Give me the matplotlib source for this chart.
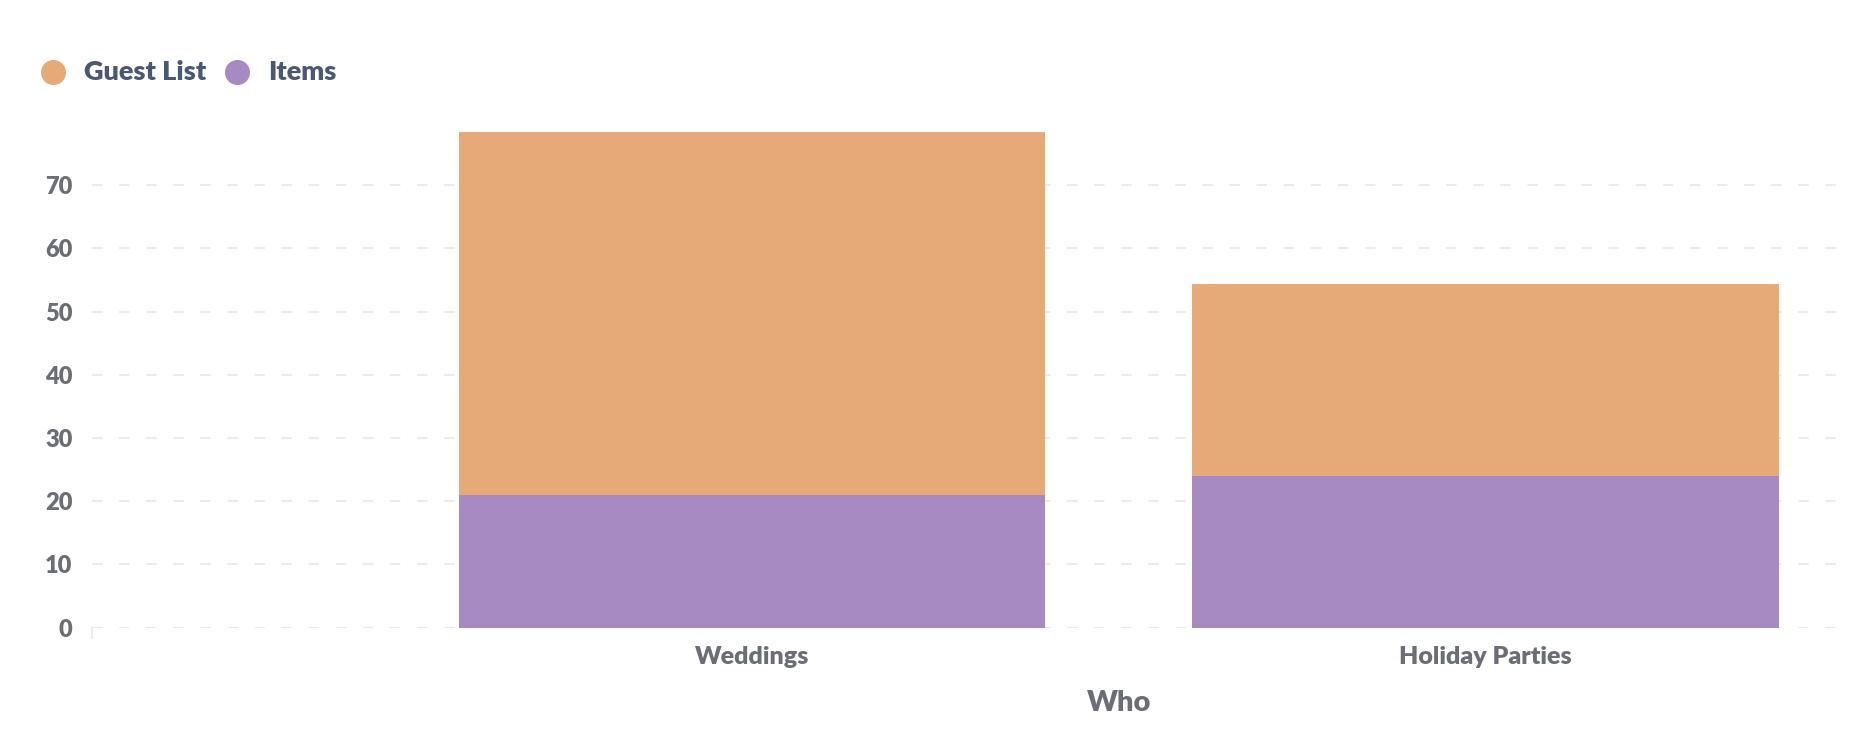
import matplotlib
matplotlib.use("Agg")
import matplotlib.pyplot as plt
from matplotlib.lines import Line2D

plt.rcParams['font.family'] = ['Lato', 'DejaVu Sans']

# data
categories = ['Weddings', 'Holiday Parties']
items = [21, 24]
guest_list = [57.4, 30.4]
yticks = [0, 10, 20, 30, 40, 50, 60, 70]
series_names = ['Guest List', 'Items']

orange = '#E6AA78'
purple = '#A68AC1'
tick_col = '#6B6E76'
legend_col = '#4C5773'
grid_col = '#EAEBED'

W, H = 1856, 748
fig = plt.figure(figsize=(W / 100, H / 100), dpi=100)
ax = fig.add_axes([92 / W, 1 - 627.7 / H, (1852 - 92) / W, (627.7 - 132) / H])

x = list(range(len(categories)))
ax.bar(x, items, width=0.8, color=purple, zorder=3)
ax.bar(x, guest_list, width=0.8, bottom=items, color=orange, zorder=3)

ax.set_xlim(-0.9, 1.5)
ax.set_ylim(0, max(a + b for a, b in zip(items, guest_list)))

ax.set_yticks(yticks)
ax.set_yticklabels([str(t) for t in yticks])
ax.set_xticks(x)
ax.set_xticklabels(categories)

for t in yticks:
    ax.axhline(t, color=grid_col, lw=1.5, linestyle=(0, (5, 8)), zorder=1)

for s in ax.spines.values():
    s.set_visible(False)

ax.tick_params(axis='y', length=0, pad=14, labelsize=17, labelcolor=tick_col)
ax.tick_params(axis='x', length=0, pad=13, labelsize=18, labelcolor=tick_col)
for lab in ax.get_yticklabels() + ax.get_xticklabels():
    lab.set_fontweight('heavy')

# small tick at the left end of the x axis
ax.plot([-0.9, -0.9], [0, -1.6], color=grid_col, lw=1.5, clip_on=False)

fig.text(1119 / W, 1 - 703 / H, 'Who', ha='center', va='center',
         fontsize=21, fontweight='heavy', color=tick_col)

# legend drawn by hand: circle + label
legend_colors = [orange, purple]
circle_x = [53, 237]
ly = 1 - 72 / H
for name, col, cx in zip(series_names, legend_colors, circle_x):
    fig.add_artist(Line2D([cx / W], [ly], marker='o', markersize=17, color=col,
                          linestyle='', transform=fig.transFigure))
    fig.text((cx + 31) / W, ly, name, ha='left', va='center', fontsize=19.5,
             fontweight='heavy', color=legend_col)

fig.savefig('out.png', dpi=100, facecolor='white')
